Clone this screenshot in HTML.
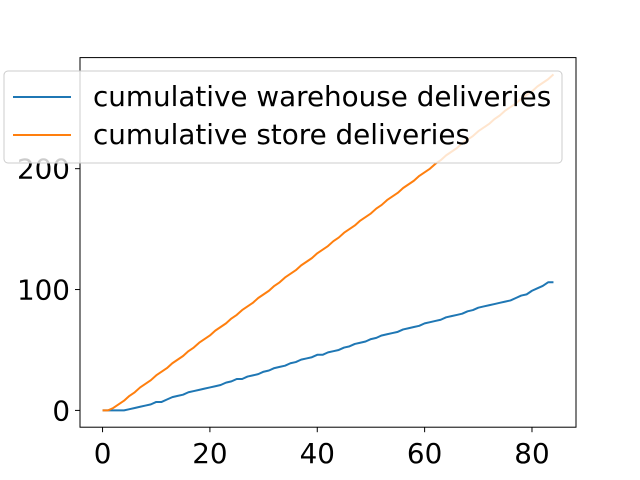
<!DOCTYPE html>
<html><head><meta charset="utf-8"><style>
html,body{margin:0;padding:0;background:#fff;}
svg{display:block;font-family:"DejaVu Sans","Liberation Sans",sans-serif;}
</style></head><body>
<svg id="chart" width="640" height="480" xmlns="http://www.w3.org/2000/svg">
<rect x="0" y="0" width="640" height="480" fill="#fff"/>
<g id="series"></g>
<rect x="80" y="57.6" width="496" height="369.6" fill="none" stroke="#000" stroke-width="1"/>
<g id="ticks"></g>
<g>
<rect x="4" y="71" width="558" height="92" rx="4" fill="#fff" fill-opacity="0.8" stroke="#ccc"/>
<line x1="13" y1="97" x2="71" y2="97" stroke="#1f77b4" stroke-width="2"/>
<text x="93" y="106" font-size="27.8">cumulative warehouse deliveries</text>
<line x1="13" y1="135" x2="71" y2="135" stroke="#ff7f0e" stroke-width="2"/>
<text x="93" y="144" font-size="27.8">cumulative store deliveries</text>
</g>
</svg>
<script>
const warehouse = [0,0,0,0,0,1,2,3,4,5,
7,7,9,11,12,13,15,16,17,18,
19,20,21,23,24,26,26,28,29,30,
32,33,35,36,37,39,40,42,43,44,
46,46,48,49,50,52,53,55,56,57,
59,60,62,63,64,65,67,68,69,70,
72,73,74,75,77,78,79,80,82,83,
85,86,87,88,89,90,91,93,95,96,
99,101,103,106,106];
const store = [0,0,2,5,8,12,15,19,22,25,
29,32,35,39,42,45,49,52,56,59,
62,66,69,72,76,79,83,86,89,93,
96,99,103,106,110,113,116,120,123,126,
130,133,136,140,143,147,150,153,157,160,
163,167,170,174,177,180,184,187,190,194,
197,200,204,207,211,214,217,221,224,227,
231,234,237,241,244,248,251,254,258,261,
264,268,271,274,278];
const xTicks = [0,20,40,60,80];
const yTicks = [0,100,200];

const NS = "http://www.w3.org/2000/svg";
const L=80,R=576,T=57.6,B=427.2;
const n = Math.max(warehouse.length, store.length);
const xMax = n-1, xPad = xMax*0.05;
const allY = warehouse.concat(store);
const yMinD = Math.min(...allY), yMaxD = Math.max(...allY), yPad=(yMaxD-yMinD)*0.05;
function sx(v){return L+(v+xPad)/(xMax+2*xPad)*(R-L);}
function sy(v){return B-(v-(yMinD-yPad))/((yMaxD+yPad)-(yMinD-yPad))*(B-T);}

const g = document.getElementById('series');
function line(arr,color,name){
  const p=document.createElementNS(NS,'polyline');
  p.setAttribute('points',arr.map((v,i)=>sx(i)+','+sy(v)).join(' '));
  p.setAttribute('fill','none');p.setAttribute('stroke',color);p.setAttribute('stroke-width','2');
  p.setAttribute('stroke-linejoin','round');
  
  
  g.appendChild(p);
}
line(warehouse,'#1f77b4','warehouse-deliveries-line');
line(store,'#ff7f0e','store-deliveries-line');

const tg=document.getElementById('ticks');
xTicks.forEach(t=>{
  const x=sx(t);
  const l=document.createElementNS(NS,'line');
  l.setAttribute('x1',x);l.setAttribute('x2',x);l.setAttribute('y1',B);l.setAttribute('y2',B+5);l.setAttribute('stroke','#000');
  
  
  tg.appendChild(l);
  const tx=document.createElementNS(NS,'text');
  tx.setAttribute('x',x);tx.setAttribute('y',B+36);tx.setAttribute('text-anchor','middle');tx.setAttribute('font-size','27.8');
  tx.textContent=t;
  
  
  tg.appendChild(tx);
});
yTicks.forEach(t=>{
  const y=sy(t);
  const l=document.createElementNS(NS,'line');
  l.setAttribute('x1',L-5);l.setAttribute('x2',L);l.setAttribute('y1',y);l.setAttribute('y2',y);l.setAttribute('stroke','#000');
  
  
  tg.appendChild(l);
  const tx=document.createElementNS(NS,'text');
  tx.setAttribute('x',L-10);tx.setAttribute('y',y+10);tx.setAttribute('text-anchor','end');tx.setAttribute('font-size','27.8');
  tx.textContent=t;
  
  
  tg.appendChild(tx);
});
</script>
</body></html>
